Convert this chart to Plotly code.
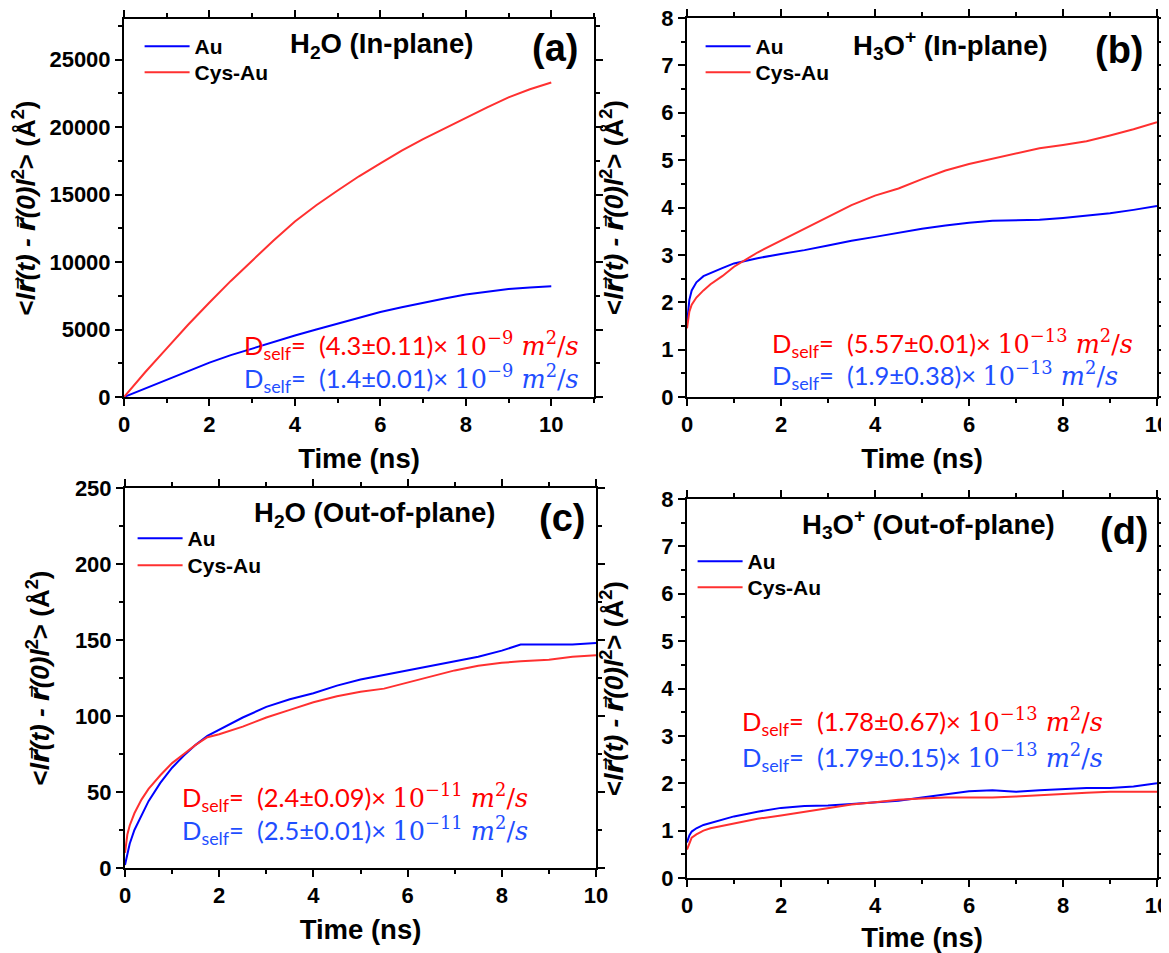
import plotly.graph_objects as go

# ---------------- data ----------------
t_a = [0, 0.5, 1, 1.5, 2, 2.5, 3, 3.5, 4, 4.5, 5, 5.5, 6, 6.5, 7, 7.5, 8, 8.5, 9, 9.5, 10]
a_au = [0, 650, 1300, 1950, 2550, 3100, 3600, 4100, 4550, 5000, 5450, 5900, 6300, 6650, 7000, 7300, 7600, 7820, 8000, 8120, 8200]
a_cys = [0, 1850, 3600, 5350, 7000, 8600, 10100, 11600, 13000, 14200, 15300, 16350, 17300, 18250, 19100, 19900, 20700, 21450, 22200, 22800, 23300]

t_b = [0, 0.05, 0.1, 0.2, 0.35, 0.5, 0.75, 1.0, 1.5, 2.0, 2.5, 3.0, 3.5, 4.0, 4.5, 5.0, 5.5, 6.0, 6.5, 7.0, 7.5, 8.0, 8.5, 9.0, 9.5, 10.0]
b_au = [1.55, 2.05, 2.25, 2.42, 2.55, 2.62, 2.72, 2.82, 2.93, 3.02, 3.1, 3.2, 3.3, 3.38, 3.47, 3.55, 3.62, 3.68, 3.72, 3.73, 3.74, 3.78, 3.83, 3.88, 3.95, 4.03]
b_cys = [1.45, 1.8, 1.95, 2.1, 2.25, 2.38, 2.55, 2.75, 3.05, 3.3, 3.55, 3.8, 4.05, 4.25, 4.4, 4.6, 4.78, 4.92, 5.03, 5.15, 5.25, 5.32, 5.4, 5.52, 5.65, 5.8]

t_c = [0, 0.05, 0.1, 0.2, 0.35, 0.5, 0.75, 1.0, 1.25, 1.5, 1.75, 2.0, 2.5, 3.0, 3.5, 4.0, 4.5, 5.0, 5.5, 6.0, 6.5, 7.0, 7.5, 8.0, 8.4, 9.0, 9.5, 10.0]
c_au = [2, 10, 16, 25, 35, 44, 56, 66, 74, 81, 87, 91, 99, 106, 111, 115, 120, 124, 127, 130, 133, 136, 139, 143, 147, 147, 147, 148]
c_cys = [10, 22, 28, 36, 45, 52, 61, 69, 75, 81, 86, 88, 93, 99, 104, 109, 113, 116, 118, 122, 126, 130, 133, 135, 136, 137, 139, 140]

t_d = [0, 0.05, 0.1, 0.2, 0.35, 0.5, 0.75, 1.0, 1.5, 2.0, 2.5, 3.0, 3.5, 4.0, 4.5, 5.0, 5.5, 6.0, 6.5, 7.0, 7.5, 8.0, 8.5, 9.0, 9.5, 10.0]
d_au = [0.75, 0.9, 0.98, 1.05, 1.12, 1.16, 1.22, 1.3, 1.4, 1.48, 1.52, 1.53, 1.56, 1.6, 1.63, 1.7, 1.76, 1.83, 1.85, 1.82, 1.85, 1.87, 1.9, 1.9, 1.93, 2.0]
d_cys = [0.6, 0.75, 0.85, 0.92, 1.0, 1.05, 1.1, 1.15, 1.25, 1.32, 1.4, 1.48, 1.55, 1.6, 1.65, 1.68, 1.7, 1.7, 1.7, 1.72, 1.75, 1.78, 1.8, 1.82, 1.82, 1.82]

series_names = ["Au", "Cys-Au"]
panel_titles = ["H<sub>2</sub>O (In-plane)", "H<sub>3</sub>O<sup>+</sup> (In-plane)",
                "H<sub>2</sub>O (Out-of-plane)", "H<sub>3</sub>O<sup>+</sup> (Out-of-plane)"]
panel_labels = ["(a)", "(b)", "(c)", "(d)"]
d_cys_text = [("4.3±0.11", "−9"), ("5.57±0.01", "−13"), ("2.4±0.09", "−11"), ("1.78±0.67", "−13")]
d_au_text = [("1.4±0.01", "−9"), ("1.9±0.38", "−13"), ("2.5±0.01", "−11"), ("1.79±0.15", "−13")]

x_ranges = [[0, 11], [0, 10], [0, 10], [0, 10]]
y_ranges = [[0, 28000], [0, 8], [0, 250], [0, 8]]
y_dticks = [5000, 1, 50, 1]

# ---------------- styling ----------------
BLUE = "#0000FF"
RED = "#FF3030"
TXT_RED = "#FF0000"
TXT_BLUE = "#1F4EFF"
FONT = "Liberation Sans"
OFF = 8                      # page body margin
W, H = 1169 - OFF, 953 - OFF

panels_px = [  # left, right, top, bottom in window pixels
    (124, 594, 19, 397),
    (687, 1157, 18, 397),
    (125, 596, 488, 868),
    (687, 1157, 499, 878),
]
ytitle_standoff = [8, 30, 18, 30]
# legend line start x, item centre y for (Au, Cys-Au)
legend_px = [(149, 46, 72), (710, 46, 72), (142, 538, 565), (702, 561, 587)]

RVEC = "<span style='font-family:DejaVu Sans'><i>r\u20d7</i></span>"
ytitle = ("&lt;<i>l</i>" + RVEC + "<i>(t) - </i>" + RVEC + "<i>(0)l</i><sup>2</sup>&gt; (Å<sup>2</sup>)")

fig = go.Figure()
datasets = [(t_a, a_au, a_cys), (t_b, b_au, b_cys), (t_c, c_au, c_cys), (t_d, d_au, d_cys)]

legend_font = dict(family=FONT, size=21, color="black", weight="bold")

annotations = []
for i, (t, au, cys) in enumerate(datasets):
    sfx = "" if i == 0 else str(i + 1)
    lx, ly_au, ly_cys = legend_px[i]
    for k, (vals, color, ly) in enumerate([(au, BLUE, ly_au), (cys, RED, ly_cys)]):
        n = 2 * i + k + 1
        lg = "legend" if n == 1 else f"legend{n}"
        fig.add_trace(go.Scatter(x=t, y=vals, mode="lines", name=series_names[k],
                                 line=dict(color=color, width=2), xaxis="x" + sfx, yaxis="y" + sfx,
                                 legend=lg))
        fig.layout[lg] = dict(x=(lx - 9.4 - OFF) / W, y=1 - (ly - 20 - OFF) / H,
                              xanchor="left", yanchor="top", itemwidth=45,
                              bgcolor="rgba(0,0,0,0)", borderwidth=0, font=legend_font)
    l, r, tp, b = panels_px[i]
    xd = [(l - OFF) / W, (r - OFF) / W]
    yd = [1 - (b - OFF) / H, 1 - (tp - OFF) / H]
    axis_common = dict(
        showline=True, linecolor="black", linewidth=2, mirror="ticks",
        ticks="outside", ticklen=7, tickwidth=1.5, tickcolor="black",
        showgrid=False, zeroline=False, automargin=False, ticklabeloverflow="allow",
        tickfont=dict(family=FONT, size=22, color="black", weight="bold"),
    )
    fig.layout["xaxis" + sfx] = dict(
        domain=xd, range=x_ranges[i], anchor="y" + sfx, dtick=2, tick0=0,
        minor=dict(dtick=1, ticks="outside", ticklen=4, tickwidth=1.5, tickcolor="black"),
        title=dict(text="Time (ns)", font=dict(family=FONT, size=27.5, color="black", weight="bold"), standoff=12),
        **axis_common)
    fig.layout["yaxis" + sfx] = dict(
        domain=yd, range=y_ranges[i], anchor="x" + sfx, dtick=y_dticks[i], tick0=0,
        tickformat="d",
        minor=dict(dtick=y_dticks[i] / 2, ticks="outside", ticklen=4, tickwidth=1.5, tickcolor="black"),
        title=dict(text=ytitle, font=dict(family=FONT, size=26, color="black", weight="bold"),
                   standoff=ytitle_standoff[i]),
        **axis_common)

title_pos = [(0.547, 0.931), (0.56, 0.929), (0.529, 0.929), (0.513, 0.934)]
label_pos = [(0.917, 0.923), (0.921, 0.916), (0.928, 0.921), (0.93, 0.916)]
dtxt_pos = [(0.251, 0.137, 0.05), (0.177, 0.142, 0.058), (0.117, 0.186, 0.10), (0.113, 0.414, 0.317)]


def dself(val, exp):
    return ("D<sub>self</sub>=  (" + val + ")× "
            "<span style='font-family:DejaVu Serif'>10<sup>" + exp + "</sup> "
            "<i>m</i><sup>2</sup>/<i>s</i></span>")


for i in range(4):
    sfx = "" if i == 0 else str(i + 1)
    xr, yr = "x" + sfx + " domain", "y" + sfx + " domain"
    annotations.append(dict(text=panel_titles[i], x=title_pos[i][0], y=title_pos[i][1], xref=xr, yref=yr,
                            showarrow=False, xanchor="center", yanchor="middle",
                            font=dict(family=FONT, size=27.5, color="black", weight="bold")))
    annotations.append(dict(text=panel_labels[i], x=label_pos[i][0], y=label_pos[i][1], xref=xr, yref=yr,
                            showarrow=False, xanchor="center", yanchor="middle",
                            font=dict(family=FONT, size=38, color="black", weight="bold")))
    annotations.append(dict(text=dself(*d_cys_text[i]), x=dtxt_pos[i][0], y=dtxt_pos[i][1], xref=xr, yref=yr,
                            showarrow=False, xanchor="left", yanchor="middle",
                            font=dict(family="Lato", size=25.5, color=TXT_RED)))
    annotations.append(dict(text=dself(*d_au_text[i]), x=dtxt_pos[i][0], y=dtxt_pos[i][2], xref=xr, yref=yr,
                            showarrow=False, xanchor="left", yanchor="middle",
                            font=dict(family="Lato", size=25.5, color=TXT_BLUE)))

fig.update_layout(width=W, height=H, margin=dict(l=0, r=0, t=0, b=0, autoexpand=False),
                  plot_bgcolor="white", paper_bgcolor="white",
                  annotations=annotations, showlegend=True)
fig.write_html("out.html")
